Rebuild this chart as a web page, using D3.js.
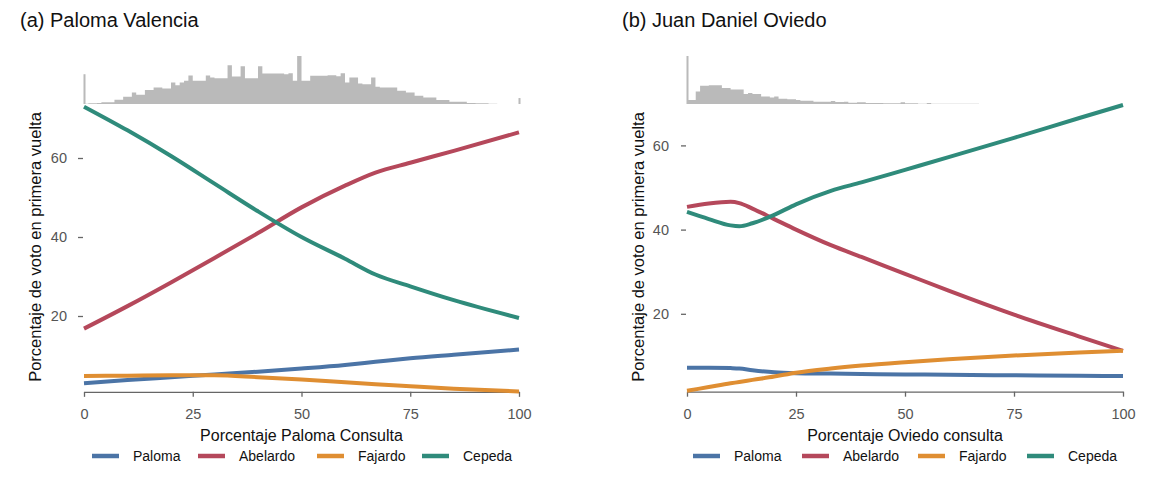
<!DOCTYPE html>
<html>
<head>
<meta charset="utf-8">
<script src="https://cdn.jsdelivr.net/npm/d3@7"></script>
<style>
  body { margin: 0; background: #fff; }
  svg { font-family: "Liberation Sans", Arial, sans-serif; }
</style>
</head>
<body>
<svg id="chart" width="1171" height="480"></svg>
<script>
const candidates = ["Paloma", "Abelardo", "Fajardo", "Cepeda"];
const colors = ["#4b74a6", "#b5485b", "#df8e32", "#2f8b7b"];
const xTicks = [0, 25, 50, 75, 100];
const yTicks = [20, 40, 60];

// panel (a): x = porcentaje Paloma consulta
const palomaX = [0, 10, 20, 30, 40, 50, 60, 67, 75, 85, 100];
const palomaPaloma = [3.0, 3.8, 4.5, 5.2, 5.9, 6.7, 7.6, 8.4, 9.3, 10.2, 11.5];
const palomaAbelardo = [16.8, 22.5, 28.5, 34.7, 41, 47.5, 53, 56.3, 58.8, 61.8, 66.5];
const palomaFajardo = [4.8, 4.9, 5.0, 5.0, 4.5, 3.9, 3.2, 2.7, 2.2, 1.6, 0.9];
const palomaCepeda = [73, 67, 60.5, 53.5, 46.5, 40, 34.5, 30.5, 27.5, 24, 19.5];
// histogram, 1% bins (relative counts) + point masses at 0 and 100
const palomaHist = [1, 2, 2, 3, 5, 5, 5, 13, 13, 22, 22, 35, 28, 28, 42, 42, 50, 50, 47, 47,
  65, 57, 65, 70, 86, 70, 70, 70, 86, 80, 78, 78, 78, 117, 83, 83, 114, 78, 78, 78,
  114, 92, 92, 92, 92, 92, 90, 93, 70, 145, 70, 70, 85, 85, 85, 85, 87, 87, 84, 93,
  65, 80, 80, 62, 60, 60, 80, 52, 50, 50, 50, 50, 40, 40, 35, 35, 25, 25, 20, 20,
  20, 12, 12, 12, 7, 7, 7, 7, 3, 3, 2, 2, 2, 1, 1, 0, 0, 0, 0, 0];
const palomaSpikes = [[0, 90], [100, 18]];

// panel (b): x = porcentaje Oviedo consulta
const oviedoX = [0, 5, 10, 12, 15, 20, 25, 33, 40, 50, 60, 75, 90, 100];
const oviedoPaloma = [7.2, 7.2, 7.1, 7.0, 6.6, 6.1, 5.9, 5.8, 5.7, 5.6, 5.5, 5.4, 5.3, 5.2];
const oviedoAbelardo = [45.4, 46.2, 46.6, 46.3, 45, 42.5, 40, 36.3, 33.5, 29.5, 25.5, 19.8, 14.6, 11.2];
const oviedoFajardo = [1.7, 2.6, 3.5, 3.8, 4.3, 5.1, 6, 7, 7.7, 8.5, 9.2, 10.1, 10.8, 11.2];
const oviedoCepeda = [44.2, 42.5, 41, 40.8, 41.5, 43.5, 46, 49.2, 51.2, 54.2, 57.2, 61.8, 66.5, 69.6];
const oviedoHist = [12, 12, 38, 55, 55, 57, 57, 57, 48, 48, 44, 44, 44, 30, 33, 30, 30, 23, 23, 20,
  23, 16, 16, 14, 14, 12, 10, 10, 10, 7, 7, 7, 7, 9, 6, 6, 7, 4, 4, 5,
  5, 3, 3, 3, 3, 2, 2, 2, 2, 5, 2, 2, 2, 1, 1, 3, 1, 1, 1, 1,
  0.5, 0.5, 0.5, 0.5, 0.5, 0.5, 0.5];
const oviedoSpikes = [[0, 145]];

const svg = d3.select("#chart");

const panels = [
  {
    title: "(a) Paloma Valencia", titleX: 20, xLabel: "Porcentaje Paloma Consulta",
    xRange: [84, 519], yDomain: [0, 75], yRange: [395, 98.75], axisAt: 0.8, tickPad: 11,
    xs: palomaX, series: [palomaPaloma, palomaAbelardo, palomaFajardo, palomaCepeda],
    hist: palomaHist, spikes: palomaSpikes, legendX: [92, 198, 317, 422]
  },
  {
    title: "(b) Juan Daniel Oviedo", titleX: 622, xLabel: "Porcentaje Oviedo consulta",
    xRange: [687, 1123], yDomain: [0, 70], yRange: [398, 103.3], axisAt: 1.5, tickPad: 12,
    xs: oviedoX, series: [oviedoPaloma, oviedoAbelardo, oviedoFajardo, oviedoCepeda],
    hist: oviedoHist, spikes: oviedoSpikes, legendX: [693, 802, 918, 1027]
  }
];

panels.forEach((p) => {
  const x = d3.scaleLinear().domain([0, 100]).range(p.xRange);
  const y = d3.scaleLinear().domain(p.yDomain).range(p.yRange);
  const h = d3.scaleLinear().domain([0, 145]).range([104, 56]);
  const g = svg.append("g");

  // title
  g.append("text")
    .attr("x", p.titleX)
    .attr("y", 27)
    .style("font-size", "20px")
    .style("fill", "#111")
    .text(p.title);

  // histogram of x on top, drawn as one stepped area
  const histData = p.hist.concat([p.hist[p.hist.length - 1]]);
  const histArea = d3.area()
    .x((d, i) => x(i))
    .y0(h(0))
    .y1((d) => h(d))
    .curve(d3.curveStepAfter);
  g.append("path")
    .datum(histData)
    .attr("d", histArea)
    .style("fill", "#bababa");

  g.append("g")
    .selectAll("rect")
    .data(p.spikes)
    .enter()
    .append("rect")
    .attr("x", (d) => x(d[0]) - 0.5)
    .attr("width", 2)
    .attr("y", (d) => h(d[1]))
    .attr("height", (d) => h(0) - h(d[1]))
    .style("fill", "#bababa");

  // axes
  const xAxis = g.append("g")
    .attr("transform", `translate(0, ${y(p.axisAt)})`)
    .call(d3.axisBottom(x).tickValues(xTicks).tickSize(5).tickSizeOuter(0).tickPadding(12));
  xAxis.select(".domain").attr("stroke", "#666").attr("stroke-width", 1.3);
  xAxis.selectAll(".tick line").attr("stroke", "#666").attr("stroke-width", 1.3);
  xAxis.selectAll("text").style("font-size", "14.5px").style("fill", "#555")
    .style("font-family", "Liberation Sans, Arial, sans-serif");

  const yAxis = g.append("g")
    .attr("transform", `translate(${p.xRange[0] - 1}, 0)`)
    .call(d3.axisLeft(y).tickValues(yTicks).tickSize(5).tickPadding(p.tickPad));
  yAxis.select(".domain").remove();
  yAxis.selectAll(".tick line").attr("stroke", "#666").attr("stroke-width", 1.3);
  yAxis.selectAll("text").style("font-size", "14.5px").style("fill", "#555")
    .style("font-family", "Liberation Sans, Arial, sans-serif");

  // axis titles
  g.append("text")
    .attr("x", (p.xRange[0] + p.xRange[1]) / 2)
    .attr("y", 441)
    .attr("text-anchor", "middle")
    .style("font-size", "16px")
    .style("fill", "#111")
    .text(p.xLabel);

  g.append("text")
    .attr("transform", `translate(${p.xRange[0] - 43}, 247) rotate(-90)`)
    .attr("text-anchor", "middle")
    .style("font-size", "16.5px")
    .style("fill", "#111")
    .text("Porcentaje de voto en primera vuelta");

  // lines
  const line = d3.line()
    .x((d, i) => x(p.xs[i]))
    .y((d) => y(d))
    .curve(d3.curveMonotoneX);

  p.series.forEach((values, k) => {
    g.append("path")
      .datum(values)
      .attr("d", line)
      .style("fill", "none")
      .style("stroke", colors[k])
      .style("stroke-width", 4)
      .style("stroke-linejoin", "round");
  });

  // legend
  candidates.forEach((name, k) => {
    const lx = p.legendX[k];
    g.append("line")
      .attr("x1", lx).attr("x2", lx + 27)
      .attr("y1", 456).attr("y2", 456)
      .style("stroke", colors[k])
      .style("stroke-width", 4.5);
    g.append("text")
      .attr("x", lx + 41)
      .attr("y", 461)
      .style("font-size", "14px")
      .style("fill", "#111")
      .text(name);
  });
});
</script>
</body>
</html>
